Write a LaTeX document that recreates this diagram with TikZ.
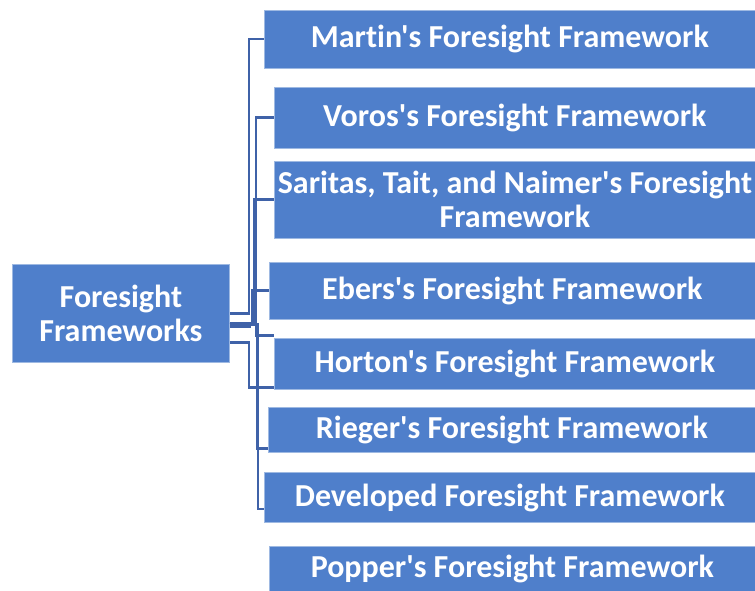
\documentclass[tikz,border=0pt]{standalone}
\usepackage{fontspec}
\setmainfont{Carlito}[Ligatures={TeXOff,NoCommon}]
\usetikzlibrary{positioning}
\definecolor{boxblue}{RGB}{79,127,203}
\definecolor{lineblue}{RGB}{63,98,168}
\tikzset{
	block/.style={
		rectangle,
		draw=boxblue!55!white,
		line width=0.8pt,
		fill=boxblue,
		text=white,
		font=\fontsize{32}{34}\selectfont\bfseries,
		align=center,
		inner sep=0pt,
		anchor=west,
	},
	link/.style={
		draw=lineblue,
		line width=2.4pt,
	},
}

\begin{document}
\begin{tikzpicture}[x=1pt, y=-1pt]
		\useasboundingbox (0,0) rectangle (755,591);
		
		\node [block, minimum width=217pt, minimum height=98pt] (hub) at (12,313.5) {Foresight\\Frameworks};
		\node [block, minimum width=491pt, minimum height=58pt] (martin) at (264,39) {Martin's Foresight Framework};
		\node [block, minimum width=481pt, minimum height=61pt] (voros) at (274,117.5) {Voros's Foresight Framework};
		\node [block, minimum width=481pt, minimum height=77pt] (saritas) at (274,199.5) {Saritas, Tait, and Naimer's Foresight\\Framework};
		\node [block, minimum width=486pt, minimum height=57pt] (ebers) at (269,290.5) {Ebers's Foresight Framework};
		\node [block, minimum width=481pt, minimum height=51pt] (horton) at (274,363.5) {Horton's Foresight Framework};
		\node [block, minimum width=487pt, minimum height=45pt] (rieger) at (268,429.5) {Rieger's Foresight Framework};
		\node [block, minimum width=491pt, minimum height=50pt] (developed) at (264,497.5) {Developed Foresight Framework};
		\node [block, minimum width=486pt, minimum height=45pt] (popper) at (269,568.5) {Popper's Foresight Framework};
		
		\draw [link] (hub.east) -- ++(19,0) |- (martin.west);
		\draw [link] ([yshift=-29pt]hub.east) -- ++(19,0) |- ([yshift=2pt]horton.south west);
		\draw [link, line width=6pt] ([yshift=-11pt]hub.east) -- ++(21,0);
		\draw [link] ([yshift=-11pt]hub.east) -- ++(26,0) |- (voros.west);
		\draw [link] ([yshift=-11pt]hub.east) -- ++(24,0) |- (saritas.west);
		\draw [link] ([yshift=-11pt]hub.east) -- ++(22,0) |- (ebers.west);
		\draw [link] ([yshift=-11pt]hub.east) -- ++(26,0) |- ([yshift=2pt]horton.north west);
		\draw [link] ([yshift=-11pt]hub.east) -- ++(27,0) |- ([yshift=4pt]rieger.south west);
		\draw [link] ([yshift=-11pt]hub.east) -- ++(28,0) |- ([yshift=-11.5pt]developed.west);
	\end{tikzpicture}
\end{document}
